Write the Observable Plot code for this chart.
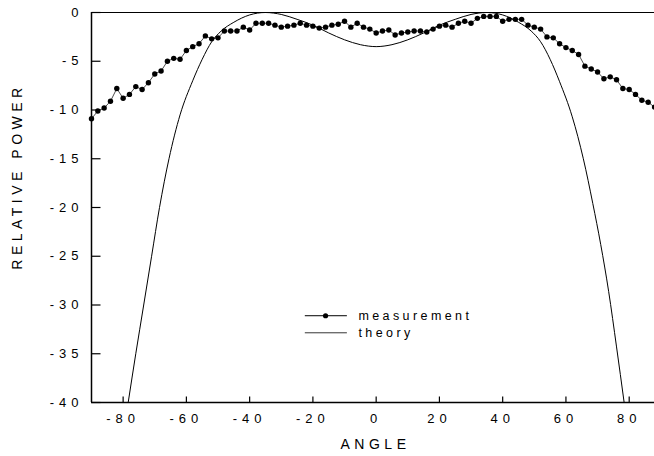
<!DOCTYPE html>
<html><head><meta charset="utf-8">
<script src="https://cdn.jsdelivr.net/npm/d3@7"></script>
<script src="https://cdn.jsdelivr.net/npm/@observablehq/plot@0.6"></script>
<style>
body{margin:0;background:#fff}
svg{display:block}
g[aria-label="x-axis tick label"] text, g[aria-label="y-axis tick label"] text{letter-spacing:5px}
</style>
</head><body><div id="chart"></div>
<script>
// measurement (dots)
const measAngles = [-90,-88,-86,-84,-82,-80,-78,-76,-74,-72,-70,-68,-66,-64,-62,-60,-58,-56,-54,-52,-50,-48,-46,-44,-42,-40,-38,-36,-34,-32,-30,-28,-26,-24,-22,-20,-18,-16,-14,-12,-10,-8,-6,-4,-2,0,2,4,6,8,10,12,14,16,18,20,22,24,26,28,30,32,34,36,38,40,42,44,46,48,50,52,54,56,58,60,62,64,66,68,70,72,74,76,78,80,82,84,86,88];
const measPower = [-10.9,-10.1,-9.8,-9.1,-7.8,-8.8,-8.4,-7.6,-7.9,-7.2,-6.3,-6.0,-5.0,-4.7,-4.8,-3.9,-3.5,-3.2,-2.4,-2.7,-2.6,-1.9,-1.9,-1.9,-1.5,-1.8,-1.1,-1.1,-1.1,-1.3,-1.5,-1.4,-1.3,-1.1,-1.3,-1.4,-1.6,-1.5,-1.3,-1.2,-0.9,-1.5,-1.1,-1.5,-1.7,-2.1,-1.9,-1.8,-2.3,-2.1,-2.0,-1.9,-1.9,-2.0,-1.7,-1.4,-1.3,-1.5,-1.1,-0.9,-1.1,-0.6,-0.4,-0.4,-0.4,-0.9,-0.7,-0.7,-0.7,-1.3,-1.5,-1.7,-2.5,-2.6,-3.2,-3.6,-3.9,-4.3,-5.5,-5.8,-6.1,-6.8,-6.6,-6.9,-7.8,-7.9,-8.4,-9.0,-9.2,-9.7];
// theory (line)
const theoryAngles = [-78.4,-76,-73.5,-71,-68.5,-65.5,-62,-58,-55,-52,-49,-45,-40,-35,-30,-25,-20,-15,-10,-5,0,5,10,15,20,25,30,35,40,45,49,52,55,58,62,65.5,68.5,71,73.5,76,78.4];
const theoryPower = [-40,-35,-30,-25,-20,-15,-10.5,-7,-4.8,-3.0,-1.9,-1.0,-0.25,0,-0.2,-0.7,-1.3,-2.1,-2.8,-3.3,-3.5,-3.3,-2.8,-2.1,-1.3,-0.7,-0.2,0,-0.25,-1.0,-1.9,-3.0,-4.8,-7.1,-10.7,-15,-19.6,-23.8,-28.6,-34.3,-40];
const xTicks = [-80,-60,-40,-20,0,20,40,60,80];
const yTicks = [0,-5,-10,-15,-20,-25,-30,-35,-40];
const seriesNames = ["measurement","theory"];
const xTitle = "ANGLE";
const yTitle = "RELATIVE POWER";

const meas = measAngles.map((a,i)=>({angle:a, power:measPower[i]}));
const theory = theoryAngles.map((a,i)=>({angle:a, power:theoryPower[i]}));

const xDomain = [-90, 88], yDomain = [-40, 0];
const W = 654, H = 456, mL = 91, mR = 0, mT = 12, mB = 54;
const frameW = W - mL - mR, frameH = H - mT - mB;
// tick lengths (px) expressed in data units
const xTickLen = 6 * (yDomain[1] - yDomain[0]) / frameH;
const yTickLen = 9 * (xDomain[1] - xDomain[0]) / frameW;

// legend placement (data units)
const legX1 = -22.4, legX2 = -9.1, legDotX = -16, legTextX = -5.6;
const legY = [-31.1, -32.85];

const font = "'Liberation Sans', Arial, Helvetica, sans-serif";
const chart = Plot.plot({
  width: W, height: H,
  marginLeft: mL, marginRight: mR, marginTop: mT, marginBottom: mB,
  style: {fontFamily: font, background: "#fff", color: "#000", overflow: "visible"},
  x: {domain: xDomain},
  y: {domain: yDomain},
  marks: [
    Plot.ruleY([yDomain[1]], {stroke: "#000", strokeWidth: 1.2}),
    Plot.ruleY([yDomain[0]], {stroke: "#000", strokeWidth: 1.5}),
    Plot.ruleX([xDomain[0]], {stroke: "#000", strokeWidth: 1.5}),
    // inward ticks
    Plot.link(xTicks, {x1: d => d, x2: d => d, y1: yDomain[0], y2: yDomain[0] + xTickLen, stroke: "#000", strokeWidth: 1.2}),
    Plot.link(yTicks, {y1: d => d, y2: d => d, x1: xDomain[0], x2: xDomain[0] + yTickLen, stroke: "#000", strokeWidth: 1.2}),
    Plot.axisX(xTicks, {tickSize: 0, tickPadding: 11, fontSize: 13, label: null, tickFormat: d => String(d)}),
    Plot.axisY(yTicks, {tickSize: 0, tickPadding: 8, fontSize: 13, label: null, tickFormat: d => String(d)}),
    Plot.text([xTitle], {frameAnchor: "bottom", dy: 42, dx: 2.5, lineAnchor: "middle", textAnchor: "middle", fontSize: 14, fill: "#000"}),
    Plot.text([yTitle], {frameAnchor: "left", dx: -74, dy: -31, rotate: -90, textAnchor: "middle", lineAnchor: "middle", fontSize: 14, fill: "#000"}),
    Plot.line(theory, {x: "angle", y: "power", stroke: "#000", strokeWidth: 1, curve: "monotone-x"}),
    Plot.line(meas, {x: "angle", y: "power", stroke: "#000", strokeWidth: 0.7}),
    Plot.dot(meas, {x: "angle", y: "power", r: 2.7, fill: "#000", stroke: "none"}),
    // legend
    Plot.ruleY([legY[0]], {x1: legX1, x2: legX2, stroke: "#000", strokeWidth: 1}),
    Plot.dot([legY[0]], {x: legDotX, y: d => d, r: 2.6, fill: "#000", stroke: "none"}),
    Plot.ruleY([legY[1]], {x1: legX1, x2: legX2, stroke: "#000", strokeWidth: 0.8}),
    Plot.text(seriesNames, {x: legTextX, y: (d,i) => legY[i], text: d => d, textAnchor: "start", fontSize: 12.5, fill: "#000"})
  ]
});
d3.select(chart).selectAll("text").each(function() {
  const t = this.textContent;
  if (seriesNames.includes(t)) this.style.letterSpacing = "3.4px";
  else if (t === xTitle || t === yTitle) this.style.letterSpacing = "4.5px";
});
document.getElementById("chart").appendChild(chart);
</script>
</body></html>
